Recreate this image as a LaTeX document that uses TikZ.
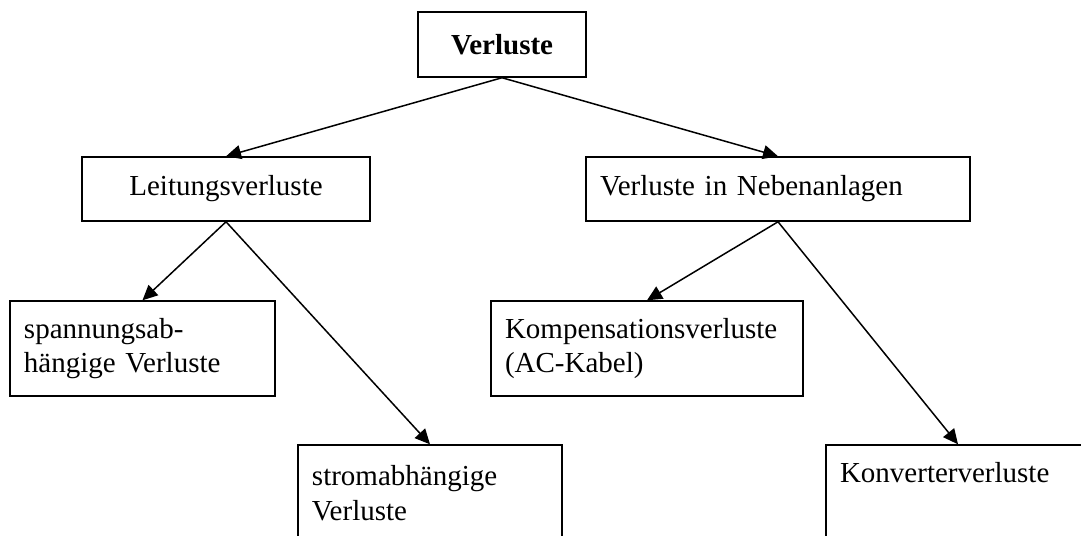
\documentclass[tikz,border=0pt]{standalone}
\usepackage{fontspec}
\setmainfont{Liberation Serif}
\usetikzlibrary{arrows.meta}

\begin{document}
\begin{tikzpicture}[
  box/.style={draw, line width=0.75pt, inner xsep=7pt, inner ysep=0pt,
    font=\fontsize{14.5}{17.25}\selectfont},
  leftbox/.style={box, align=left, text width=#1},
  arr/.style={-{Triangle[length=7.5pt,width=7pt]}, line width=0.75pt}
]
  \useasboundingbox (0,0) rectangle (18.996,9.402);
  \node [box, minimum width=84pt, minimum height=32.5pt] (T) at (8.822,8.620) {\textbf{Verluste}};
  \node [box, align=center, minimum width=144pt, minimum height=32pt] (ML) at (3.972,6.080) {Leitungsverluste};
  \node [leftbox=178pt, minimum height=32pt] (MR) at (13.672,6.080) {Verluste in Nebenanlagen};
  \draw [arr] (T.south) -- (ML.north);
  \draw [arr] (T.south) -- (MR.north);
  \node [leftbox=118.5pt, minimum height=47.5pt] (BL) at (2.504,3.277) {spannungsab-\\hängige Verluste};
  \node [leftbox=118pt, minimum height=48pt] (BML) at (7.556,0.738) {stromabhängige\\Verluste};
  \draw [arr] (ML.south) -- (BL.north);
  \draw [arr] (ML.south) -- (BML.north);
  \node [leftbox=142pt, minimum height=47.5pt] (BMR) at (11.370,3.277) {Kompensationsverluste\\(AC-Kabel)};
  \node [leftbox=118pt, minimum height=48pt] (BR) at (16.835,0.738) {Konverterverluste\\\vphantom{g}};
  \draw [arr] (MR.south) -- (BMR.north);
  \draw [arr] (MR.south) -- (BR.north);
\end{tikzpicture}
\end{document}
